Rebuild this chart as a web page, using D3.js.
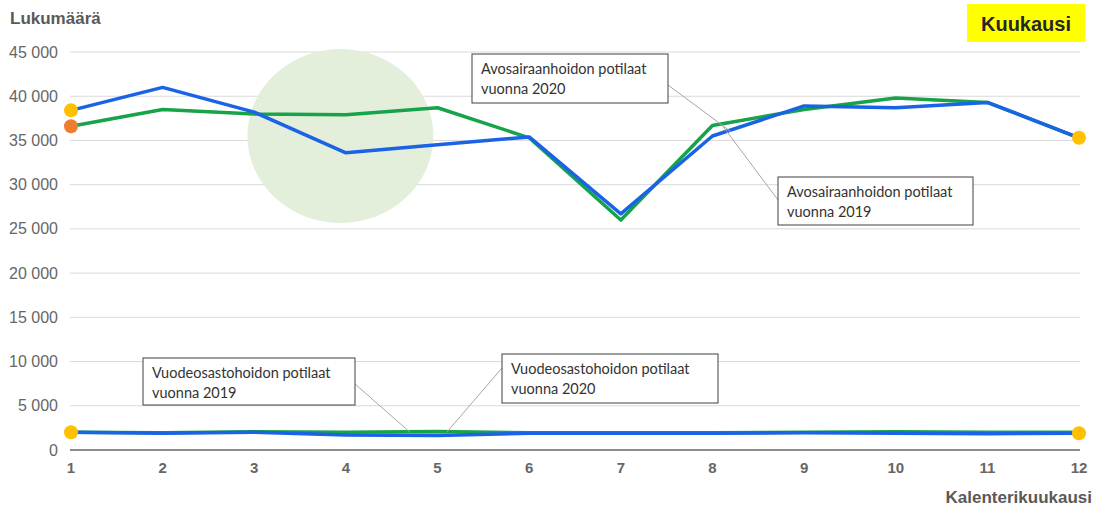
<!DOCTYPE html>
<html><head><meta charset="utf-8">
<script src="https://cdn.jsdelivr.net/npm/d3@7"></script>
<style>body{margin:0;background:#fff}svg{display:block}</style>
</head><body>
<svg id="c" width="1105" height="508"></svg>
<script>
const months = [1,2,3,4,5,6,7,8,9,10,11,12];
const avo2020 = [38400, 41000, 38200, 33600, 34500, 35400, 26700, 35500, 38900, 38700, 39300, 35300];
const avo2019 = [36600, 38500, 38000, 37900, 38700, 35300, 26000, 36700, 38500, 39800, 39300, 35300];
const vuode2020 = [2000, 1900, 2000, 1700, 1650, 1900, 1900, 1900, 1950, 1900, 1850, 1900];
const vuode2019 = [2000, 1950, 2050, 2000, 2100, 1950, 1950, 1950, 2000, 2050, 2000, 2000];
const yTicks = [0,5000,10000,15000,20000,25000,30000,35000,40000,45000];
const yTitle = "Lukumäärä";
const xTitle = "Kalenterikuukausi";
const badge = "Kuukausi";
const notes = [
  {lines:["Avosairaanhoidon potilaat","vuonna 2020"], box:[472,54,196,49], from:[668,85], to:[8.2,36000]},
  {lines:["Avosairaanhoidon potilaat","vuonna 2019"], box:[778,177,195,48], from:[778,200], to:[8.1,36800]},
  {lines:["Vuodeosastohoidon potilaat","vuonna 2019"], box:[143,358,212,47], from:[355,384], to:[4.7,2000]},
  {lines:["Vuodeosastohoidon potilaat","vuonna 2020"], box:[502,354,216,49], from:[502,368], to:[5.1,2000]}
];

const svg = d3.select("#c");
const x = d3.scaleLinear().domain([1,12]).range([71,1079]);
const y = d3.scaleLinear().domain([0,45000]).range([450,52]);
const fmt = v => d3.format(",")(v).replace(/,/g," ");

// gridlines
svg.append("g").selectAll("line").data(yTicks.filter(d=>d>0)).join("line")
  .attr("x1",70).attr("x2",1080).attr("y1",d=>y(d)).attr("y2",d=>y(d))
  .attr("stroke","#d9d9d9").attr("stroke-width",1);
// y labels
svg.append("g").selectAll("text").data(yTicks).join("text")
  .attr("x",58).attr("y",d=>y(d)+5.5).attr("text-anchor","end")
  .attr("font-family","Liberation Sans, Arial, sans-serif").attr("font-size",16).attr("fill","#666")
  .text(d=>fmt(d));
// highlight ellipse
svg.append("ellipse").attr("cx",x(3.94)).attr("cy",y(35500)).attr("rx",93).attr("ry",87)
  .attr("fill","#e3eedb");
// zero axis
svg.append("line").attr("x1",70).attr("x2",1080).attr("y1",y(0)).attr("y2",y(0))
  .attr("stroke","#8c8c8c").attr("stroke-width",2);
// x labels
svg.append("g").selectAll("text").data(months).join("text")
  .attr("x",d=>x(d)).attr("y",473).attr("text-anchor","middle")
  .attr("font-family","Liberation Sans, Arial, sans-serif").attr("font-size",15).attr("font-weight","bold").attr("fill","#666")
  .text(d=>d);

const line = d3.line().x((d,i)=>x(months[i])).y(d=>y(d));
const series = [
  {v:vuode2019,c:"#16a34a"},{v:vuode2020,c:"#1a62e6"},
  {v:avo2019,c:"#16a34a"},{v:avo2020,c:"#1a62e6"}
];
svg.append("g").selectAll("path").data(series).join("path")
  .attr("d",d=>line(d.v)).attr("fill","none").attr("stroke",d=>d.c)
  .attr("stroke-width",3.5).attr("stroke-linejoin","round");

// dots
const dots = [
  {m:1,v:avo2020[0],c:"#ffc000"},{m:1,v:avo2019[0],c:"#ed7d31"},
  {m:12,v:avo2020[11],c:"#ffc000"},{m:1,v:vuode2020[0],c:"#ffc000"},{m:12,v:vuode2020[11],c:"#ffc000"}
];
svg.append("g").selectAll("circle").data(dots).join("circle")
  .attr("cx",d=>x(d.m)).attr("cy",d=>y(d.v)).attr("r",7).attr("fill",d=>d.c);

// annotations
const ag = svg.append("g");
notes.forEach(n=>{
  ag.append("line").attr("x1",n.from[0]).attr("y1",n.from[1]).attr("x2",x(n.to[0])).attr("y2",y(n.to[1]))
    .attr("stroke","#a6a6a6").attr("stroke-width",1);
});
notes.forEach(n=>{
  const [bx,by,bw,bh]=n.box;
  ag.append("rect").attr("x",bx).attr("y",by).attr("width",bw).attr("height",bh)
    .attr("fill","#fff").attr("stroke","#404040").attr("stroke-width",1);
  n.lines.forEach((t,i)=>ag.append("text").attr("x",bx+9).attr("y",by+20+i*20)
    .attr("font-family","Lato, Open Sans, sans-serif").attr("font-size",14.5).attr("fill","#333").text(t));
});

// titles
svg.append("text").attr("x",10).attr("y",24).attr("font-family","Liberation Sans, Arial, sans-serif")
  .attr("font-size",17).attr("font-weight","bold").attr("fill","#595959").text(yTitle);
svg.append("text").attr("x",1092).attr("y",503).attr("text-anchor","end").attr("font-family","Liberation Sans, Arial, sans-serif")
  .attr("font-size",17).attr("font-weight","bold").attr("fill","#595959").text(xTitle);
svg.append("rect").attr("x",967).attr("y",4).attr("width",118).attr("height",38).attr("fill","#ffff00");
svg.append("text").attr("x",1026).attr("y",31).attr("text-anchor","middle").attr("font-family","Liberation Sans, Arial, sans-serif")
  .attr("font-size",20).attr("font-weight","bold").attr("fill","#262626").text(badge);
</script>
</body></html>
